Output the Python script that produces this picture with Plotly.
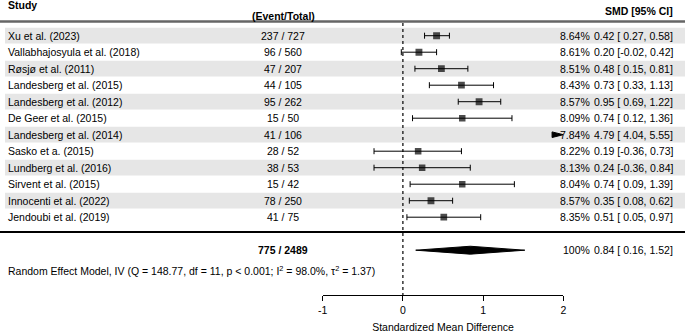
import plotly.graph_objects as go

studies = ["Xu et al. (2023)", "Vallabhajosyula et al. (2018)", "Røsjø et al. (2011)",
           "Landesberg et al. (2015)", "Landesberg et al. (2012)", "De Geer et al. (2015)",
           "Landesberg et al. (2014)", "Sasko et a. (2015)", "Lundberg et al. (2016)",
           "Sirvent et al. (2015)", "Innocenti et al. (2022)", "Jendoubi et al. (2019)"]
events = [237, 96, 47, 44, 95, 15, 41, 28, 38, 15, 78, 41]
totals = [727, 560, 207, 105, 262, 50, 106, 52, 53, 42, 250, 75]
weights = [8.64, 8.61, 8.51, 8.43, 8.57, 8.09, 7.84, 8.22, 8.13, 8.04, 8.57, 8.35]
smd = [0.42, 0.20, 0.48, 0.73, 0.95, 0.74, 4.79, 0.19, 0.24, 0.74, 0.35, 0.51]
ci_low = [0.27, -0.02, 0.15, 0.33, 0.69, 0.12, 4.04, -0.36, -0.36, 0.09, 0.08, 0.05]
ci_high = [0.58, 0.42, 0.81, 1.13, 1.22, 1.36, 5.55, 0.73, 0.84, 1.39, 0.62, 0.97]
pooled = (0.84, 0.16, 1.52)
stats_text = ("Random Effect Model, IV (Q = 148.77, df = 11, p &lt; 0.001; "
              "I<sup>2</sup> = 98.0%, τ<sup>2</sup> = 1.37)")
x_ticks = [-1, 0, 1, 2]

W, H = 685, 333
FONT = "Liberation Sans, Arial, sans-serif"
FS = 10.5
ROW0, DY = 35.7, 16.5


def yrow(py):
    return 1 + (py - ROW0) / DY


XMIN, XMAX = -1, 2
n = len(studies)
rows = list(range(1, n + 1))
fig = go.Figure()

# shading
shapes = []
for r in rows:
    if r % 2 == 1:
        shapes.append(dict(type="rect", xref="paper", yref="y", x0=5 / W, x1=1,
                           y0=r - 0.48, y1=r + 0.48, fillcolor="#e6e6e6",
                           line=dict(width=0), layer="below"))
shapes.append(dict(type="line", xref="paper", yref="y", x0=0, x1=1,
                   y0=yrow(21.5), y1=yrow(21.5), line=dict(color="#666666", width=2.5)))
shapes.append(dict(type="line", xref="paper", yref="y", x0=0, x1=1,
                   y0=yrow(232), y1=yrow(232), line=dict(color="black", width=2)))
shapes.append(dict(type="line", xref="x", yref="y", x0=0, x1=0,
                   y0=yrow(23), y1=yrow(295), line=dict(color="black", width=1.2, dash="dot")))

# study points in range
xs, ys, ep, em, sz = [], [], [], [], []
for i, r in enumerate(rows):
    if ci_low[i] > XMAX:
        # off-scale arrow at right edge
        L = 0.14
        shapes.append(dict(type="path", xref="x", yref="y",
                           path=f"M {XMAX - L},{r - 0.17} L {XMAX},{r} L {XMAX - L},{r + 0.17} Z",
                           fillcolor="black", line=dict(color="black", width=1)))
        continue
    xs.append(smd[i]); ys.append(r)
    ep.append(ci_high[i] - smd[i]); em.append(smd[i] - ci_low[i])
    sz.append(weights[i] * 0.8)

fig.add_trace(go.Scatter(
    x=xs, y=ys, mode="markers",
    marker=dict(symbol="square", size=sz, color="black", line=dict(width=0)),
    error_x=dict(type="data", symmetric=False, array=ep, arrayminus=em,
                 width=3, thickness=1, color="black"),
    showlegend=False, hoverinfo="skip"))

# pooled diamond
est, lo, hi = pooled
ys_ = 14
fig.add_trace(go.Scatter(
    x=[lo, est, hi, est, lo], y=[ys_, ys_ - 0.24, ys_, ys_ + 0.24, ys_],
    mode="lines", fill="toself", fillcolor="black", line=dict(color="black", width=1),
    showlegend=False, hoverinfo="skip"))

ann = []


def text(x, y, t, anchor="left", bold=False):
    ann.append(dict(xref="paper", yref="y", x=x / W, y=y, text=(f"<b>{t}</b>" if bold else t),
                    showarrow=False, xanchor=anchor, yanchor="middle",
                    font=dict(family=FONT, size=FS, color="black")))


text(6, yrow(5), "Study", bold=True)
text(283, yrow(15.5), "(Event/Total)", "center", bold=True)
text(675, yrow(11), "SMD [95% CI]", "right", bold=True)

for i, r in enumerate(rows):
    text(6, r, studies[i])
    text(283, r, f"{events[i]} / {totals[i]}", "center")
    text(592, r, f"{weights[i]:.2f}%", "right")
    text(675, r, f"{smd[i]:.2f} [{ci_low[i]:5.2f}, {ci_high[i]:.2f}]", "right")

text(283, 14, f"{sum(events)} / {sum(totals)}", "center", bold=True)
text(592, 14, "100%", "right")
text(675, 14, f"{est:.2f} [{lo:5.2f}, {hi:.2f}]", "right")
text(6, yrow(270), stats_text)

fig.update_layout(
    width=W, height=H, margin=dict(l=0, r=0, t=0, b=0, autoexpand=False),
    paper_bgcolor="white", plot_bgcolor="rgba(0,0,0,0)",
    shapes=shapes, annotations=ann,
    font=dict(family=FONT, size=FS, color="black"),
    xaxis=dict(domain=[322.7 / W, 563.3 / W], range=[XMIN, XMAX], anchor="free",
               position=(H - 295) / H, showgrid=False, zeroline=False,
               showline=True, linecolor="black", linewidth=1,
               ticks="outside", ticklen=5, tickwidth=1, tickcolor="black",
               tickvals=x_ticks, ticktext=[str(t) for t in x_ticks],
               tickfont=dict(family=FONT, size=FS, color="black"),
               automargin=False,
               title=dict(text="Standardized Mean Difference", standoff=9,
                          font=dict(family=FONT, size=FS, color="black"))),
    yaxis=dict(domain=[0, 1], range=[yrow(H), yrow(0)], visible=False,
               showgrid=False, zeroline=False),
)

fig.write_html("out.html", config={"displayModeBar": False},
               post_script="document.body.style.margin='0';document.body.style.overflow='hidden';")
